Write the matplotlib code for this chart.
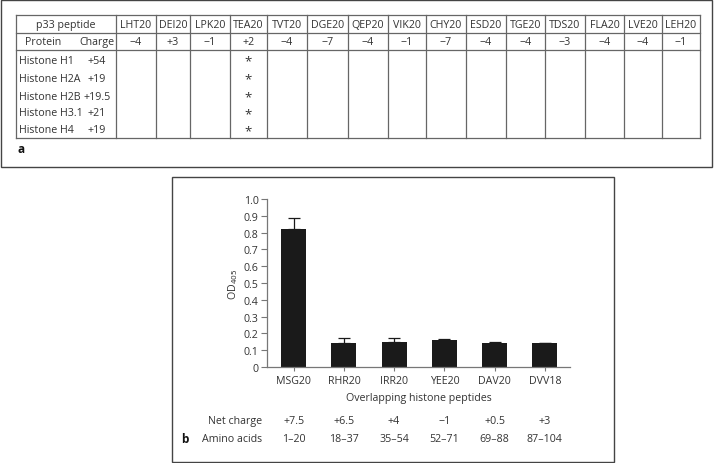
import matplotlib
matplotlib.use("Agg")
import matplotlib.pyplot as plt
from matplotlib.patches import Rectangle
from matplotlib.transforms import blended_transform_factory

plt.rcParams['font.family'] = ['Open Sans', 'DejaVu Sans']

# ---- data: panel a (table) ----
peptides = ["LHT20", "DEI20", "LPK20", "TEA20", "TVT20", "DGE20", "QEP20", "VIK20",
            "CHY20", "ESD20", "TGE20", "TDS20", "FLA20", "LVE20", "LEH20"]
peptide_charges = ["\u22124", "+3", "\u22121", "+2", "\u22124", "\u22127", "\u22124", "\u22121",
                   "\u22127", "\u22124", "\u22124", "\u22123", "\u22124", "\u22124", "\u22121"]
proteins = ["Histone H1", "Histone H2A", "Histone H2B", "Histone H3.1", "Histone H4"]
protein_charges = ["+54", "+19", "+19.5", "+21", "+19"]
binding_peptide = "TEA20"

# ---- data: panel b (bar chart) ----
histone_peptides = ["MSG20", "RHR20", "IRR20", "YEE20", "DAV20", "DVV18"]
od405 = [0.82, 0.14, 0.15, 0.16, 0.145, 0.14]
od405_err = [0.065, 0.03, 0.02, 0.005, 0.004, 0.004]
net_charge = ["+7.5", "+6.5", "+4", "\u22121", "+0.5", "+3"]
amino_acids = ["1\u201320", "18\u201337", "35\u201354", "52\u201371", "69\u201388", "87\u2013104"]
yticks = [0, 0.1, 0.2, 0.3, 0.4, 0.5, 0.6, 0.7, 0.8, 0.9, 1.0]
ytick_labels = ["0", "0.1", "0.2", "0.3", "0.4", "0.5", "0.6", "0.7", "0.8", "0.9", "1.0"]

W, H = 716, 464
fig = plt.figure(figsize=(W / 100, H / 100), dpi=100)

txt = '#333333'
lc = '#666666'
fs = 7.7

# background axes in pixel coordinates
bg = fig.add_axes([0, 0, 1, 1])
bg.set_xlim(0, W)
bg.set_ylim(H, 0)
bg.axis('off')

# boxes
bg.add_patch(Rectangle((0.5, 0.5), 711.5, 167.5, fill=False, ec='#444444', lw=1.0))
bg.add_patch(Rectangle((172, 178), 442, 285, fill=False, ec='#444444', lw=1.0))

# table layout
col_edges = [16, 116, 156, 190, 230, 267, 307, 348, 388, 426, 466, 506, 545, 585, 624, 662, 700]
row_top, row1, row2, row_bot = 16, 34, 51, 139
row_y = [61, 79, 97, 114, 131]

for y in [row_top, row1, row2, row_bot]:
    bg.plot([col_edges[0], col_edges[-1]], [y, y], color=lc, lw=0.9)
for x in col_edges:
    bg.plot([x, x], [row_top, row_bot], color=lc, lw=0.9)

bg.text(66, 25.5, "p33 peptide", ha='center', va='center', fontsize=fs, color=txt)
bg.text(43, 42.5, "Protein", ha='center', va='center', fontsize=fs, color=txt)
bg.text(114, 42.5, "Charge", ha='right', va='center', fontsize=fs, color=txt)

for i, (p, c) in enumerate(zip(peptides, peptide_charges)):
    cx = (col_edges[i + 1] + col_edges[i + 2]) / 2
    bg.text(cx, 25.5, p, ha='center', va='center', fontsize=fs, color=txt)
    bg.text(cx, 42.5, c, ha='center', va='center', fontsize=fs, color=txt)

bi = peptides.index(binding_peptide)
bx = (col_edges[bi + 1] + col_edges[bi + 2]) / 2
for y, name, ch in zip(row_y, proteins, protein_charges):
    bg.text(19, y, name, ha='left', va='center', fontsize=fs, color=txt)
    bg.text(97, y, ch, ha='center', va='center', fontsize=fs, color=txt)
    bg.text(bx, y + 1, "*", ha='center', va='center', fontsize=9.5, color=txt)

bg.text(17, 150, "a", ha='left', va='center', fontsize=8.5, fontweight='bold', color='#111111')

# bar chart axes
ax_l, ax_r, ax_t, ax_b = 267, 570, 200, 368
ax = fig.add_axes([ax_l / W, (H - ax_b) / H, (ax_r - ax_l) / W, (ax_b - ax_t) / H])
xpos = list(range(len(histone_peptides)))
ax.bar(xpos, od405, width=0.5, color='#1a1a1a', zorder=2)
ax.errorbar(xpos, od405, yerr=[[0] * len(od405), od405_err], fmt='none',
            ecolor='#1a1a1a', elinewidth=0.9, capsize=4.3, capthick=0.9, zorder=1)
ax.set_xlim(-0.53, 5.5)
ax.set_ylim(0, 1.0)
ax.set_yticks(yticks)
ax.set_yticklabels(ytick_labels)
ax.set_xticks(xpos)
ax.set_xticklabels(histone_peptides)
for s in ['top', 'right']:
    ax.spines[s].set_visible(False)
for s in ['left', 'bottom']:
    ax.spines[s].set_color('#777777')
    ax.spines[s].set_linewidth(0.9)
ax.tick_params(axis='both', colors='#777777', labelcolor=txt, labelsize=fs, width=0.8)
ax.tick_params(axis='y', length=4, pad=2)
ax.tick_params(axis='x', length=3, pad=3)
ax.set_ylabel("OD$_{405}$", fontsize=fs, color=txt, labelpad=3)
ax.set_xlabel("Overlapping histone peptides", fontsize=fs, color=txt, labelpad=4)

tr = blended_transform_factory(ax.transData, bg.transData)
for x, nc, aa in zip(xpos, net_charge, amino_acids):
    ax.text(x, 422, nc, transform=tr, ha='center', va='center', fontsize=fs, color=txt)
    ax.text(x, 440, aa, transform=tr, ha='center', va='center', fontsize=fs, color=txt)
bg.text(262, 422, "Net charge", ha='right', va='center', fontsize=fs, color=txt)
bg.text(262, 440, "Amino acids", ha='right', va='center', fontsize=fs, color=txt)
bg.text(181, 440, "b", ha='left', va='center', fontsize=8.5, fontweight='bold', color='#111111')

fig.savefig("out.png", dpi=100)
